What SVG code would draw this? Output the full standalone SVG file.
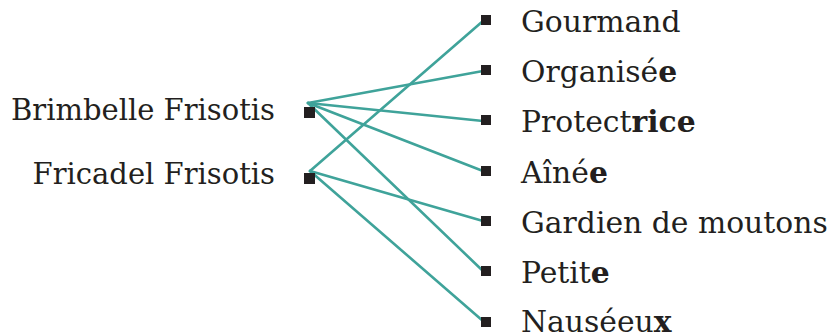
<svg xmlns="http://www.w3.org/2000/svg" width="829" height="335" viewBox="0 0 829 335">
<style>
.t{font-family:"DejaVu Serif","Liberation Serif",serif;font-size:29px;fill:#231f20}
.r{font-size:29.8px}
.l{text-anchor:end}
.b{font-weight:bold}
.sq{fill:#231f20}
.c{stroke:#3fa39a;stroke-width:2.6;fill:none;stroke-linecap:round}
</style>
<rect width="829" height="335" fill="#ffffff"/>
<g id="connectors">
<line class="c" x1="308" y1="103" x2="483" y2="71"/>
<line class="c" x1="308" y1="103" x2="483" y2="121"/>
<line class="c" x1="308" y1="103" x2="483" y2="171"/>
<line class="c" x1="308" y1="103" x2="483" y2="271"/>
<line class="c" x1="310" y1="171" x2="483" y2="21"/>
<line class="c" x1="310" y1="171" x2="483" y2="221"/>
<line class="c" x1="310" y1="171" x2="483" y2="321"/>
</g>
<g id="brimbelle">
<text class="t l" x="275" y="120">Brimbelle Frisotis</text>
<rect class="sq" x="304" y="107" width="11" height="11"/>
</g>
<g id="fricadel">
<text class="t l" x="275" y="184">Fricadel Frisotis</text>
<rect class="sq" x="304" y="173" width="11" height="11"/>
</g>
<g id="gourmand">
<rect class="sq" x="481" y="15" width="10" height="10"/>
<text class="t r" x="521" y="32">Gourmand</text>
</g>
<g id="organisee">
<rect class="sq" x="481" y="65" width="10" height="10"/>
<text class="t r" x="521" y="82">Organisé<tspan class="b">e</tspan></text>
</g>
<g id="protectrice">
<rect class="sq" x="481" y="115" width="10" height="10"/>
<text class="t r" x="521" y="132">Protect<tspan class="b">rice</tspan></text>
</g>
<g id="ainee">
<rect class="sq" x="481" y="166" width="10" height="10"/>
<text class="t r" x="521" y="183">Aîné<tspan class="b">e</tspan></text>
</g>
<g id="gardien">
<rect class="sq" x="481" y="216" width="10" height="10"/>
<text class="t r" x="521" y="233">Gardien de moutons</text>
</g>
<g id="petite">
<rect class="sq" x="481" y="266" width="10" height="10"/>
<text class="t r" x="521" y="283">Petit<tspan class="b">e</tspan></text>
</g>
<g id="nauseeux">
<rect class="sq" x="481" y="317" width="10" height="10"/>
<text class="t r" x="521" y="332">Nauséeu<tspan class="b">x</tspan></text>
</g>
</svg>
